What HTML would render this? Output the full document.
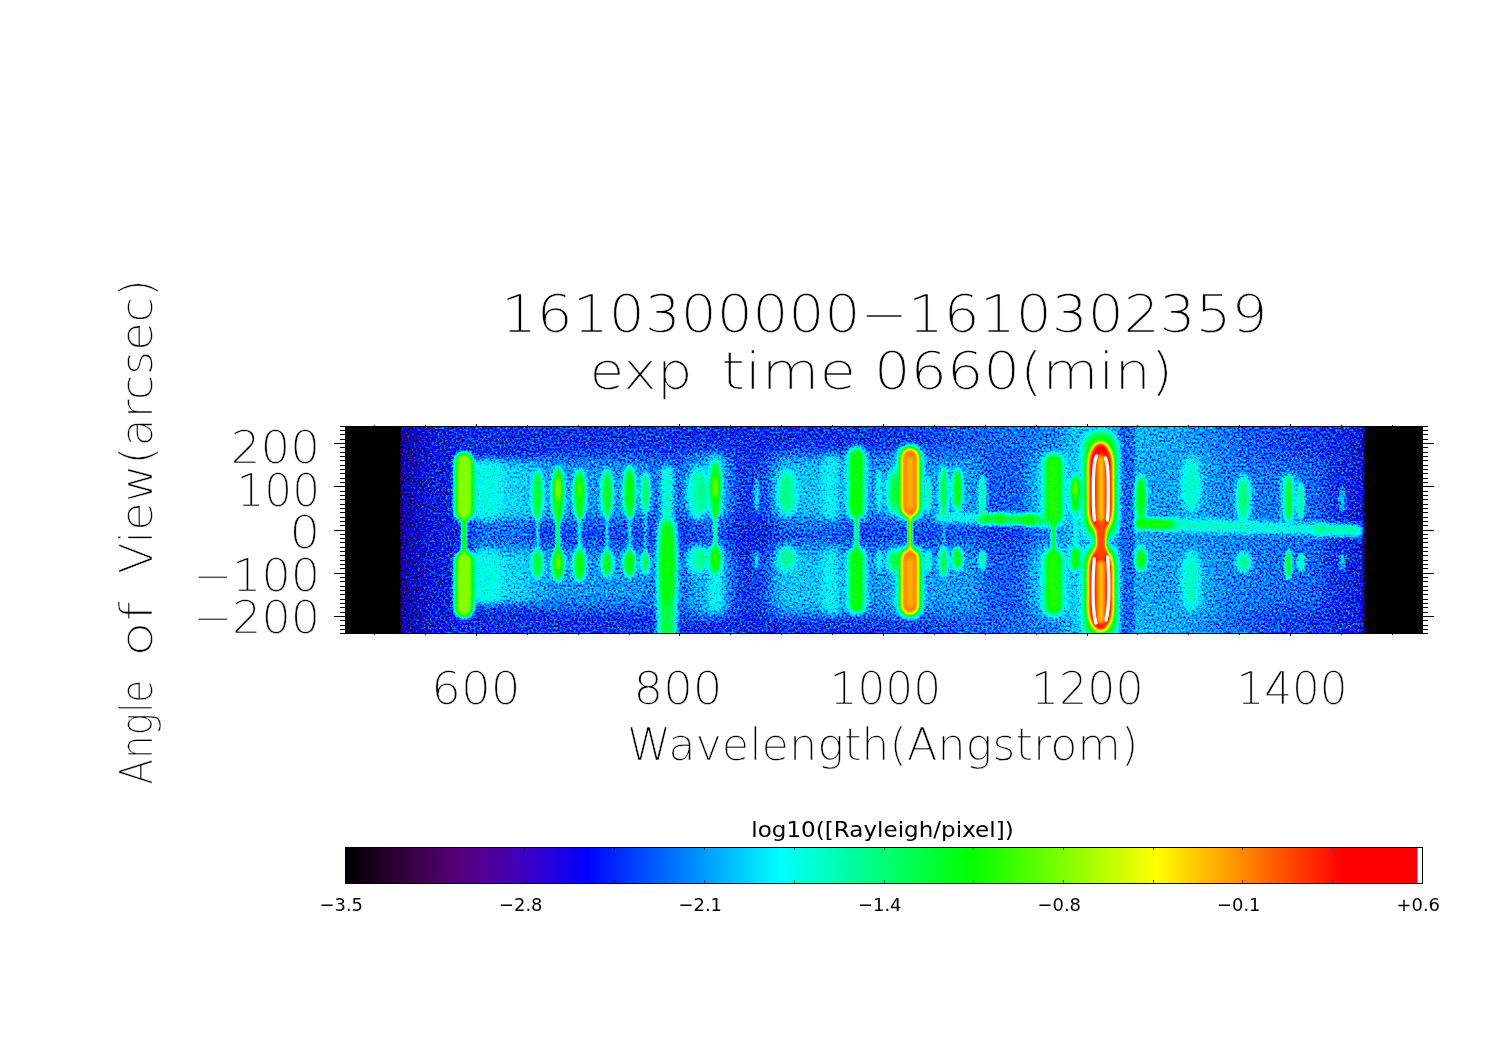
<!DOCTYPE html>
<html lang="en"><head><meta charset="utf-8"><title>1610300000-1610302359 exp time 0660(min)</title>
<style>html,body{margin:0;padding:0;background:#fff}svg{display:block}.h{font-family:"DejaVu Sans","Liberation Sans",sans-serif;font-weight:200;fill:#000;stroke:#fff;stroke-width:.45px}.s{font-family:"DejaVu Sans","Liberation Sans",sans-serif;fill:#000}</style></head><body>
<svg width="1497" height="1058" viewBox="0 0 1497 1058">
<defs>
<filter id="b1" filterUnits="userSpaceOnUse" x="305" y="387" width="1158" height="286" color-interpolation-filters="sRGB"><feGaussianBlur stdDeviation="1.0"/></filter>
<filter id="b15" filterUnits="userSpaceOnUse" x="305" y="387" width="1158" height="286" color-interpolation-filters="sRGB"><feGaussianBlur stdDeviation="1.5"/></filter>
<filter id="b2" filterUnits="userSpaceOnUse" x="305" y="387" width="1158" height="286" color-interpolation-filters="sRGB"><feGaussianBlur stdDeviation="2.0"/></filter>
<filter id="b3" filterUnits="userSpaceOnUse" x="305" y="387" width="1158" height="286" color-interpolation-filters="sRGB"><feGaussianBlur stdDeviation="3.0"/></filter>
<filter id="b5" filterUnits="userSpaceOnUse" x="305" y="387" width="1158" height="286" color-interpolation-filters="sRGB"><feGaussianBlur stdDeviation="5.0"/></filter>
<filter id="b8" filterUnits="userSpaceOnUse" x="305" y="387" width="1158" height="286" color-interpolation-filters="sRGB"><feGaussianBlur stdDeviation="8.0"/></filter>
<filter id="b14" filterUnits="userSpaceOnUse" x="305" y="387" width="1158" height="286" color-interpolation-filters="sRGB"><feGaussianBlur stdDeviation="14.0"/></filter>
<filter id="cm" filterUnits="userSpaceOnUse" x="346" y="427" width="1076" height="206" color-interpolation-filters="sRGB">
<feComponentTransfer in="SourceGraphic" result="M"><feFuncR type="table" tableValues="1 1 1 1 1 1 1 1 1 0.93 0.86 0.79 0.72 0.64 0.56 0.48 0.4 0.355 0.31 0.265 0.22 0.19 0.16 0.13 0.1 0.075 0.05 0.025 0 0 0 0 0 0 0 0 0 0 0 0 0"/><feFuncG type="table" tableValues="1 1 1 1 1 1 1 1 1 0.93 0.86 0.79 0.72 0.64 0.56 0.48 0.4 0.355 0.31 0.265 0.22 0.19 0.16 0.13 0.1 0.075 0.05 0.025 0 0 0 0 0 0 0 0 0 0 0 0 0"/><feFuncB type="table" tableValues="1 1 1 1 1 1 1 1 1 0.93 0.86 0.79 0.72 0.64 0.56 0.48 0.4 0.355 0.31 0.265 0.22 0.19 0.16 0.13 0.1 0.075 0.05 0.025 0 0 0 0 0 0 0 0 0 0 0 0 0"/></feComponentTransfer>
<feTurbulence type="fractalNoise" baseFrequency="0.5 0.47" numOctaves="2" seed="7" result="T"/>
<feColorMatrix in="T" type="matrix" values="1 0 0 0 0  1 0 0 0 0  1 0 0 0 0  0 0 0 0 1" result="N0"/>
<feComponentTransfer in="N0" result="N"><feFuncR type="table" tableValues="0 0 0 0 0 0 0 0 0 0 0 0 0 0 0.002 0.063 0.117 0.167 0.213 0.254 0.293 0.33 0.364 0.395 0.426 0.454 0.481 0.507 0.532 0.555 0.578 0.599 0.62 0.64 0.659 0.678 0.696 0.713 0.73 0.746 0.762 0.778 0.793 0.807 0.821 0.835 0.849 0.862 0.875 0.887 0.899 0.911 0.923 0.935 0.946 0.957 0.968 0.978 0.988 0.999 1 1 1 1 1"/><feFuncG type="table" tableValues="0 0 0 0 0 0 0 0 0 0 0 0 0 0 0.002 0.063 0.117 0.167 0.213 0.254 0.293 0.33 0.364 0.395 0.426 0.454 0.481 0.507 0.532 0.555 0.578 0.599 0.62 0.64 0.659 0.678 0.696 0.713 0.73 0.746 0.762 0.778 0.793 0.807 0.821 0.835 0.849 0.862 0.875 0.887 0.899 0.911 0.923 0.935 0.946 0.957 0.968 0.978 0.988 0.999 1 1 1 1 1"/><feFuncB type="table" tableValues="0 0 0 0 0 0 0 0 0 0 0 0 0 0 0.002 0.063 0.117 0.167 0.213 0.254 0.293 0.33 0.364 0.395 0.426 0.454 0.481 0.507 0.532 0.555 0.578 0.599 0.62 0.64 0.659 0.678 0.696 0.713 0.73 0.746 0.762 0.778 0.793 0.807 0.821 0.835 0.849 0.862 0.875 0.887 0.899 0.911 0.923 0.935 0.946 0.957 0.968 0.978 0.988 0.999 1 1 1 1 1"/></feComponentTransfer>
<feComposite in="M" in2="N" operator="arithmetic" k1="1" k2="0" k3="0" k4="0" result="D"/>
<feComposite in="SourceGraphic" in2="D" operator="arithmetic" k1="0" k2="1" k3="0.4333" k4="0" result="Q"/>
<feComponentTransfer in="SourceGraphic" result="MB"><feFuncR type="table" tableValues="0 0 0 0 0 0 0 0 0 0.07 0.14 0.21 0.28 0.36 0.44 0.52 0.6 0.645 0.69 0.735 0.78 0.81 0.84 0.87 0.9 0.925 0.95 0.975 1 1 1 1 1 1 1 1 1 1 1 1 1"/><feFuncG type="table" tableValues="0 0 0 0 0 0 0 0 0 0.07 0.14 0.21 0.28 0.36 0.44 0.52 0.6 0.645 0.69 0.735 0.78 0.81 0.84 0.87 0.9 0.925 0.95 0.975 1 1 1 1 1 1 1 1 1 1 1 1 1"/><feFuncB type="table" tableValues="0 0 0 0 0 0 0 0 0 0.07 0.14 0.21 0.28 0.36 0.44 0.52 0.6 0.645 0.69 0.735 0.78 0.81 0.84 0.87 0.9 0.925 0.95 0.975 1 1 1 1 1 1 1 1 1 1 1 1 1"/></feComponentTransfer>
<feComposite in="Q" in2="MB" operator="arithmetic" k1="0" k2="1" k3="0.2687" k4="-0.2687" result="F"/>
<feComponentTransfer in="F" result="C"><feFuncR type="table" tableValues="0 0.022 0.044 0.066 0.086 0.107 0.125 0.141 0.157 0.16 0.163 0.161 0.149 0.137 0.12 0.099 0.078 0.052 0.026 0 0 0 0 0 0 0 0 0 0 0 0 0 0 0 0 0 0 0 0 0 0 0 0 0 0 0 0 0 0 0 0.045 0.114 0.182 0.25 0.318 0.386 0.455 0.523 0.591 0.659 0.727 0.795 0.864 0.932 1 1 1 1 1 1 1 1 1 1 1 1 1 1 1 1 1 1 1 1 1 1"/><feFuncG type="table" tableValues="0 0 0 0 0 0 0 0 0 0 0 0 0 0 0 0 0 0 0 0 0.065 0.13 0.196 0.261 0.326 0.391 0.457 0.522 0.587 0.652 0.717 0.783 0.848 0.913 0.978 1 1 1 1 1 1 1 1 1 1 1 1 1 1 1 1 1 1 1 1 1 1 1 1 1 1 1 1 1 1 0.932 0.864 0.795 0.727 0.659 0.591 0.523 0.455 0.386 0.318 0.25 0.182 0.114 0.045 0 0 0 0 0 0 1"/><feFuncB type="table" tableValues="0 0.05 0.1 0.151 0.204 0.257 0.312 0.368 0.424 0.478 0.532 0.587 0.641 0.696 0.751 0.807 0.863 0.908 0.954 1 1 1 1 1 1 1 1 1 1 1 1 1 1 1 1 0.956 0.889 0.822 0.756 0.689 0.622 0.556 0.489 0.422 0.356 0.289 0.222 0.156 0.089 0.022 0 0 0 0 0 0 0 0 0 0 0 0 0 0 0 0 0 0 0 0 0 0 0 0 0 0 0 0 0 0 0 0 0 0 0 1"/></feComponentTransfer>
<feGaussianBlur in="C" stdDeviation="0.38"/>
</filter>
<linearGradient id="bg" gradientUnits="userSpaceOnUse" x1="345" y1="0" x2="1423" y2="0">
<stop offset="0.0000" stop-color="rgb(0,0,0)"/>
<stop offset="0.0506" stop-color="rgb(0,0,0)"/>
<stop offset="0.0533" stop-color="rgb(41,41,41)"/>
<stop offset="0.0788" stop-color="rgb(57,57,57)"/>
<stop offset="0.1160" stop-color="rgb(64,64,64)"/>
<stop offset="0.2737" stop-color="rgb(66,66,66)"/>
<stop offset="0.3850" stop-color="rgb(64,64,64)"/>
<stop offset="0.4963" stop-color="rgb(66,66,66)"/>
<stop offset="0.5427" stop-color="rgb(70,70,70)"/>
<stop offset="0.5937" stop-color="rgb(76,76,76)"/>
<stop offset="0.6447" stop-color="rgb(80,80,80)"/>
<stop offset="0.6725" stop-color="rgb(82,82,82)"/>
<stop offset="0.7310" stop-color="rgb(79,79,79)"/>
<stop offset="0.7328" stop-color="rgb(91,91,91)"/>
<stop offset="0.7699" stop-color="rgb(88,88,88)"/>
<stop offset="0.8071" stop-color="rgb(82,82,82)"/>
<stop offset="0.8395" stop-color="rgb(74,74,74)"/>
<stop offset="0.8766" stop-color="rgb(69,69,69)"/>
<stop offset="0.9230" stop-color="rgb(64,64,64)"/>
<stop offset="0.9434" stop-color="rgb(59,59,59)"/>
<stop offset="0.9467" stop-color="rgb(0,0,0)"/>
<stop offset="1.0000" stop-color="rgb(0,0,0)"/>
</linearGradient>
<linearGradient id="cb" x1="0" y1="0" x2="1" y2="0">
<stop offset="0.0000" stop-color="rgb(0,0,0)"/>
<stop offset="0.0314" stop-color="rgb(30,0,34)"/>
<stop offset="0.0627" stop-color="rgb(58,0,70)"/>
<stop offset="0.0941" stop-color="rgb(80,0,108)"/>
<stop offset="0.1255" stop-color="rgb(84,0,145)"/>
<stop offset="0.1569" stop-color="rgb(68,0,182)"/>
<stop offset="0.1882" stop-color="rgb(40,0,220)"/>
<stop offset="0.2235" stop-color="rgb(0,0,255)"/>
<stop offset="0.4039" stop-color="rgb(0,255,255)"/>
<stop offset="0.5804" stop-color="rgb(0,255,0)"/>
<stop offset="0.7529" stop-color="rgb(255,255,0)"/>
<stop offset="0.9255" stop-color="rgb(255,0,0)"/>
<stop offset="1" stop-color="rgb(255,0,0)"/>
</linearGradient>
</defs>
<rect width="1497" height="1058" fill="#fff"/>
<g filter="url(#cm)">
<rect x="340" y="422" width="1088" height="216" fill="url(#bg)"/>
<rect x="472.0" y="519.0" width="62.0" height="32.0" rx="6.0" fill="rgb(84,84,84)" filter="url(#b5)" opacity="0.7"/>
<rect x="473.0" y="460.0" width="76.0" height="60.0" rx="8.0" fill="rgb(101,101,101)" filter="url(#b5)" opacity="0.9"/>
<rect x="471.0" y="462.0" width="30.0" height="56.0" rx="8.0" fill="rgb(110,110,110)" filter="url(#b5)" opacity="0.9"/>
<rect x="473.0" y="549.0" width="76.0" height="55.0" rx="8.0" fill="rgb(101,101,101)" filter="url(#b5)" opacity="0.9"/>
<rect x="471.0" y="551.0" width="30.0" height="51.0" rx="8.0" fill="rgb(110,110,110)" filter="url(#b5)" opacity="0.9"/>
<rect x="535.0" y="459.0" width="125.0" height="152.0" rx="10.0" fill="rgb(73,73,73)" filter="url(#b8)" opacity="0.6375"/>
<rect x="535.0" y="458.0" width="125.0" height="62.0" rx="10.0" fill="rgb(91,91,91)" filter="url(#b8)" opacity="0.75"/>
<rect x="535.0" y="548.0" width="125.0" height="58.0" rx="10.0" fill="rgb(91,91,91)" filter="url(#b8)" opacity="0.75"/>
<rect x="655.0" y="459.0" width="80.0" height="152.0" rx="10.0" fill="rgb(66,66,66)" filter="url(#b8)" opacity="0.595"/>
<rect x="655.0" y="455.0" width="80.0" height="65.0" rx="10.0" fill="rgb(84,84,84)" filter="url(#b8)" opacity="0.7"/>
<rect x="655.0" y="548.0" width="80.0" height="67.0" rx="10.0" fill="rgb(84,84,84)" filter="url(#b8)" opacity="0.7"/>
<rect x="690.0" y="459.0" width="40.0" height="152.0" rx="10.0" fill="rgb(78,78,78)" filter="url(#b8)" opacity="0.595"/>
<rect x="690.0" y="455.0" width="40.0" height="65.0" rx="10.0" fill="rgb(96,96,96)" filter="url(#b8)" opacity="0.7"/>
<rect x="690.0" y="548.0" width="40.0" height="67.0" rx="10.0" fill="rgb(96,96,96)" filter="url(#b8)" opacity="0.7"/>
<rect x="740.0" y="459.0" width="50.0" height="152.0" rx="10.0" fill="rgb(59,59,59)" filter="url(#b8)" opacity="0.425"/>
<rect x="740.0" y="455.0" width="50.0" height="65.0" rx="10.0" fill="rgb(76,76,76)" filter="url(#b8)" opacity="0.5"/>
<rect x="740.0" y="548.0" width="50.0" height="67.0" rx="10.0" fill="rgb(76,76,76)" filter="url(#b8)" opacity="0.5"/>
<rect x="772.0" y="459.0" width="78.0" height="152.0" rx="10.0" fill="rgb(80,80,80)" filter="url(#b8)" opacity="0.68"/>
<rect x="772.0" y="455.0" width="78.0" height="65.0" rx="10.0" fill="rgb(98,98,98)" filter="url(#b8)" opacity="0.8"/>
<rect x="772.0" y="548.0" width="78.0" height="67.0" rx="10.0" fill="rgb(98,98,98)" filter="url(#b8)" opacity="0.8"/>
<rect x="823.0" y="455.0" width="18.0" height="65.0" rx="10.0" fill="rgb(107,107,107)" filter="url(#b3)" opacity="0.9"/>
<rect x="823.0" y="548.0" width="18.0" height="67.0" rx="10.0" fill="rgb(107,107,107)" filter="url(#b3)" opacity="0.9"/>
<rect x="842.0" y="459.0" width="63.0" height="152.0" rx="10.0" fill="rgb(74,74,74)" filter="url(#b8)" opacity="0.595"/>
<rect x="842.0" y="455.0" width="63.0" height="65.0" rx="10.0" fill="rgb(92,92,92)" filter="url(#b8)" opacity="0.7"/>
<rect x="842.0" y="548.0" width="63.0" height="67.0" rx="10.0" fill="rgb(92,92,92)" filter="url(#b8)" opacity="0.7"/>
<rect x="880.0" y="459.0" width="110.0" height="152.0" rx="10.0" fill="rgb(74,74,74)" filter="url(#b8)" opacity="0.595"/>
<rect x="880.0" y="455.0" width="110.0" height="65.0" rx="10.0" fill="rgb(92,92,92)" filter="url(#b8)" opacity="0.7"/>
<rect x="880.0" y="548.0" width="110.0" height="67.0" rx="10.0" fill="rgb(92,92,92)" filter="url(#b8)" opacity="0.7"/>
<rect x="985.0" y="459.0" width="50.0" height="152.0" rx="10.0" fill="rgb(61,61,61)" filter="url(#b8)" opacity="0.51"/>
<rect x="985.0" y="455.0" width="50.0" height="65.0" rx="10.0" fill="rgb(79,79,79)" filter="url(#b8)" opacity="0.6"/>
<rect x="985.0" y="548.0" width="50.0" height="67.0" rx="10.0" fill="rgb(79,79,79)" filter="url(#b8)" opacity="0.6"/>
<rect x="1030.0" y="459.0" width="55.0" height="152.0" rx="10.0" fill="rgb(82,82,82)" filter="url(#b8)" opacity="0.68"/>
<rect x="1030.0" y="455.0" width="55.0" height="65.0" rx="10.0" fill="rgb(99,99,99)" filter="url(#b8)" opacity="0.8"/>
<rect x="1030.0" y="548.0" width="55.0" height="67.0" rx="10.0" fill="rgb(99,99,99)" filter="url(#b8)" opacity="0.8"/>
<rect x="1170.0" y="459.0" width="45.0" height="152.0" rx="10.0" fill="rgb(80,80,80)" filter="url(#b8)" opacity="0.51"/>
<rect x="1170.0" y="455.0" width="45.0" height="65.0" rx="10.0" fill="rgb(98,98,98)" filter="url(#b8)" opacity="0.6"/>
<rect x="1170.0" y="548.0" width="45.0" height="67.0" rx="10.0" fill="rgb(98,98,98)" filter="url(#b8)" opacity="0.6"/>
<rect x="1140.0" y="458.0" width="185.0" height="150.0" rx="10.0" fill="rgb(85,85,85)" filter="url(#b8)" opacity="0.55"/>
<rect x="1064.0" y="407.0" width="54.0" height="246.0" rx="20.0" fill="rgb(97,97,97)" filter="url(#b8)" opacity="0.8"/>
<path d="M935 511.9L985 513.5L985 523.5L935 521.9Z" fill="rgb(107,107,107)" filter="url(#b2)"/>
<path d="M980 512.9L1050 515.1L1050 526.1L980 523.9Z" fill="rgb(139,139,139)" filter="url(#b2)"/>
<path d="M1135 517.9L1178 519.3L1178 530.3L1135 528.9Z" fill="rgb(153,153,153)" filter="url(#b2)"/>
<path d="M1172 519.1L1250 521.6L1250 532.6L1172 530.1Z" fill="rgb(117,117,117)" filter="url(#b3)"/>
<path d="M1240 521.3L1325 524.0L1325 535.0L1240 532.3Z" fill="rgb(113,113,113)" filter="url(#b3)"/>
<path d="M1315 523.7L1362 525.2L1362 536.2L1315 534.7Z" fill="rgb(125,125,125)" filter="url(#b3)"/>
<ellipse cx="984.0" cy="518.5" rx="5.0" ry="5.0" fill="rgb(145,145,145)" filter="url(#b2)"/>
<ellipse cx="1000.0" cy="519.0" rx="5.0" ry="5.0" fill="rgb(150,150,150)" filter="url(#b2)"/>
<ellipse cx="1029.0" cy="520.0" rx="6.0" ry="5.5" fill="rgb(150,150,150)" filter="url(#b2)"/>
<rect x="461.5" y="515.0" width="5.0" height="42.0" rx="1.0" fill="rgb(153,153,153)" filter="url(#b1)"/>
<rect x="454.5" y="452.0" width="19.0" height="69.0" rx="9.5" fill="rgb(171,171,171)" filter="url(#b2)"/>
<rect x="454.5" y="551.0" width="19.0" height="67.0" rx="9.5" fill="rgb(171,171,171)" filter="url(#b2)"/>
<rect x="536.0" y="513.0" width="3.0" height="43.0" rx="1.0" fill="rgb(107,107,107)" filter="url(#b1)"/>
<ellipse cx="537.5" cy="495.0" rx="5.5" ry="25.0" fill="rgb(140,140,140)" filter="url(#b2)"/>
<ellipse cx="537.5" cy="564.0" rx="5.5" ry="15.0" fill="rgb(140,140,140)" filter="url(#b2)"/>
<rect x="556.0" y="515.0" width="4.0" height="40.0" rx="1.0" fill="rgb(140,140,140)" filter="url(#b1)"/>
<ellipse cx="558.0" cy="494.0" rx="6.0" ry="28.0" fill="rgb(153,153,153)" filter="url(#b2)"/>
<ellipse cx="558.0" cy="564.5" rx="6.0" ry="16.5" fill="rgb(153,153,153)" filter="url(#b2)"/>
<ellipse cx="558.0" cy="489.0" rx="3.0" ry="12.0" fill="rgb(173,173,173)" filter="url(#b2)"/>
<ellipse cx="558.0" cy="562.0" rx="3.0" ry="7.0" fill="rgb(168,168,168)" filter="url(#b2)"/>
<rect x="578.0" y="513.0" width="3.0" height="42.0" rx="1.0" fill="rgb(115,115,115)" filter="url(#b1)"/>
<ellipse cx="579.5" cy="494.5" rx="6.0" ry="25.5" fill="rgb(148,148,148)" filter="url(#b2)"/>
<ellipse cx="579.5" cy="564.5" rx="6.0" ry="16.5" fill="rgb(148,148,148)" filter="url(#b2)"/>
<ellipse cx="579.5" cy="489.0" rx="3.0" ry="10.0" fill="rgb(161,161,161)" filter="url(#b2)"/>
<rect x="605.5" y="511.0" width="3.0" height="46.0" rx="1.0" fill="rgb(107,107,107)" filter="url(#b1)"/>
<ellipse cx="607.0" cy="493.5" rx="5.5" ry="24.5" fill="rgb(143,143,143)" filter="url(#b2)"/>
<ellipse cx="607.0" cy="563.5" rx="5.5" ry="13.5" fill="rgb(143,143,143)" filter="url(#b2)"/>
<rect x="628.0" y="511.0" width="3.0" height="45.0" rx="1.0" fill="rgb(107,107,107)" filter="url(#b1)"/>
<ellipse cx="629.5" cy="492.0" rx="6.0" ry="26.0" fill="rgb(148,148,148)" filter="url(#b2)"/>
<ellipse cx="629.5" cy="563.0" rx="6.0" ry="14.0" fill="rgb(148,148,148)" filter="url(#b2)"/>
<rect x="644.0" y="506.0" width="3.0" height="52.0" rx="1.0" fill="rgb(97,97,97)" filter="url(#b1)"/>
<ellipse cx="645.5" cy="492.5" rx="4.0" ry="20.5" fill="rgb(138,138,138)" filter="url(#b2)"/>
<ellipse cx="645.5" cy="562.5" rx="4.0" ry="11.5" fill="rgb(138,138,138)" filter="url(#b2)"/>
<rect x="662.0" y="466.0" width="10.0" height="170.0" rx="5.0" fill="rgb(120,120,120)" filter="url(#b3)"/>
<rect x="658.5" y="520.0" width="17.0" height="125.0" rx="8.5" fill="rgb(138,138,138)" filter="url(#b3)"/>
<ellipse cx="667.3" cy="565.0" rx="7.5" ry="42.0" fill="rgb(149,149,149)" filter="url(#b3)"/>
<ellipse cx="697.0" cy="493.0" rx="9.5" ry="26.0" fill="rgb(116,116,116)" filter="url(#b3)"/>
<ellipse cx="697.0" cy="559.5" rx="9.5" ry="13.5" fill="rgb(116,116,116)" filter="url(#b3)"/>
<ellipse cx="702.5" cy="492.5" rx="4.0" ry="20.5" fill="rgb(128,128,128)" filter="url(#b2)"/>
<ellipse cx="702.5" cy="559.0" rx="4.0" ry="11.0" fill="rgb(128,128,128)" filter="url(#b2)"/>
<rect x="709.3" y="455.0" width="12.0" height="62.0" rx="6.0" fill="rgb(107,107,107)" filter="url(#b3)"/>
<rect x="708.5" y="546.0" width="14.0" height="66.0" rx="7.0" fill="rgb(105,105,105)" filter="url(#b3)"/>
<rect x="713.8" y="511.0" width="3.0" height="41.0" rx="1.0" fill="rgb(140,140,140)" filter="url(#b1)"/>
<ellipse cx="715.3" cy="489.5" rx="5.5" ry="28.5" fill="rgb(148,148,148)" filter="url(#b2)"/>
<ellipse cx="715.3" cy="559.5" rx="5.5" ry="14.5" fill="rgb(148,148,148)" filter="url(#b2)"/>
<ellipse cx="715.3" cy="487.0" rx="3.0" ry="12.0" fill="rgb(171,171,171)" filter="url(#b2)"/>
<ellipse cx="715.3" cy="559.0" rx="3.0" ry="7.0" fill="rgb(158,158,158)" filter="url(#b2)"/>
<ellipse cx="756.6" cy="495.0" rx="2.5" ry="18.0" fill="rgb(102,102,102)" filter="url(#b15)"/>
<ellipse cx="756.6" cy="560.0" rx="2.5" ry="10.0" fill="rgb(102,102,102)" filter="url(#b15)"/>
<ellipse cx="786.5" cy="492.5" rx="9.0" ry="22.5" fill="rgb(125,125,125)" filter="url(#b3)"/>
<ellipse cx="786.5" cy="558.5" rx="9.0" ry="11.5" fill="rgb(125,125,125)" filter="url(#b3)"/>
<rect x="846.5" y="446.0" width="20.0" height="74.0" rx="10.0" fill="rgb(112,112,112)" filter="url(#b3)"/>
<rect x="846.5" y="546.0" width="20.0" height="69.0" rx="10.0" fill="rgb(112,112,112)" filter="url(#b3)"/>
<rect x="854.5" y="511.0" width="4.0" height="44.0" rx="1.0" fill="rgb(140,140,140)" filter="url(#b1)"/>
<rect x="849.5" y="449.0" width="14.0" height="68.0" rx="7.0" fill="rgb(149,149,149)" filter="url(#b2)"/>
<rect x="849.5" y="549.0" width="14.0" height="63.0" rx="7.0" fill="rgb(149,149,149)" filter="url(#b2)"/>
<ellipse cx="879.0" cy="491.0" rx="3.0" ry="22.0" fill="rgb(107,107,107)" filter="url(#b15)"/>
<ellipse cx="879.0" cy="561.0" rx="3.0" ry="12.0" fill="rgb(107,107,107)" filter="url(#b15)"/>
<ellipse cx="894.0" cy="492.0" rx="6.5" ry="22.0" fill="rgb(140,140,140)" filter="url(#b3)"/>
<ellipse cx="894.0" cy="560.5" rx="6.5" ry="11.5" fill="rgb(140,140,140)" filter="url(#b3)"/>
<rect x="898.0" y="445.0" width="24.0" height="75.0" rx="12.0" fill="rgb(140,140,140)" filter="url(#b3)"/>
<rect x="898.0" y="546.0" width="24.0" height="72.0" rx="12.0" fill="rgb(140,140,140)" filter="url(#b3)"/>
<rect x="908.0" y="511.0" width="4.0" height="44.0" rx="1.0" fill="rgb(184,184,184)" filter="url(#b1)"/>
<rect x="901.0" y="448.0" width="18.0" height="69.0" rx="9.0" fill="rgb(217,217,217)" filter="url(#b2)"/>
<rect x="901.0" y="549.0" width="18.0" height="66.0" rx="9.0" fill="rgb(217,217,217)" filter="url(#b2)"/>
<rect x="906.5" y="456.0" width="7.0" height="54.0" rx="3.5" fill="rgb(204,204,204)" filter="url(#b2)"/>
<rect x="906.5" y="557.0" width="7.0" height="51.0" rx="3.5" fill="rgb(204,204,204)" filter="url(#b2)"/>
<ellipse cx="928.0" cy="495.0" rx="3.5" ry="18.0" fill="rgb(115,115,115)" filter="url(#b15)"/>
<ellipse cx="928.0" cy="560.5" rx="3.5" ry="10.5" fill="rgb(115,115,115)" filter="url(#b15)"/>
<rect x="942.7" y="511.0" width="2.0" height="43.0" rx="1.0" fill="rgb(102,102,102)" filter="url(#b1)"/>
<ellipse cx="943.7" cy="492.0" rx="4.0" ry="26.0" fill="rgb(140,140,140)" filter="url(#b2)"/>
<ellipse cx="943.7" cy="562.0" rx="4.0" ry="15.0" fill="rgb(140,140,140)" filter="url(#b2)"/>
<ellipse cx="957.4" cy="489.5" rx="5.0" ry="21.5" fill="rgb(148,148,148)" filter="url(#b2)"/>
<ellipse cx="957.4" cy="558.5" rx="5.0" ry="11.5" fill="rgb(148,148,148)" filter="url(#b2)"/>
<ellipse cx="982.3" cy="497.5" rx="4.0" ry="22.5" fill="rgb(117,117,117)" filter="url(#b15)"/>
<ellipse cx="982.3" cy="560.0" rx="4.0" ry="10.0" fill="rgb(117,117,117)" filter="url(#b15)"/>
<rect x="1042.5" y="452.0" width="22.0" height="75.0" rx="11.0" fill="rgb(117,117,117)" filter="url(#b3)"/>
<rect x="1042.5" y="548.0" width="22.0" height="69.0" rx="11.0" fill="rgb(117,117,117)" filter="url(#b3)"/>
<rect x="1051.5" y="518.0" width="4.0" height="39.0" rx="1.0" fill="rgb(148,148,148)" filter="url(#b1)"/>
<rect x="1045.5" y="455.0" width="16.0" height="69.0" rx="8.0" fill="rgb(153,153,153)" filter="url(#b2)"/>
<rect x="1045.5" y="551.0" width="16.0" height="63.0" rx="8.0" fill="rgb(153,153,153)" filter="url(#b2)"/>
<rect x="1073.9" y="506.0" width="3.0" height="48.0" rx="1.0" fill="rgb(115,115,115)" filter="url(#b1)"/>
<ellipse cx="1075.4" cy="494.0" rx="5.0" ry="19.0" fill="rgb(153,153,153)" filter="url(#b2)"/>
<ellipse cx="1075.4" cy="559.0" rx="5.0" ry="12.0" fill="rgb(153,153,153)" filter="url(#b2)"/>
<ellipse cx="1075.4" cy="488.0" rx="3.0" ry="8.0" fill="rgb(168,168,168)" filter="url(#b2)"/>
<rect x="1119.5" y="422.0" width="14.0" height="216.0" rx="0.0" fill="rgb(76,76,76)" filter="url(#b1)"/>
<rect x="1083.0" y="431.0" width="35.0" height="109.0" rx="17.0" fill="rgb(143,143,143)" filter="url(#b3)"/>
<rect x="1083.0" y="544.0" width="35.0" height="96.0" rx="17.0" fill="rgb(143,143,143)" filter="url(#b3)"/>
<rect x="1087.8" y="442" width="25.5" height="90" rx="12.7" ry="24" fill="rgb(237,237,237)" filter="url(#b2)"/>
<rect x="1087.8" y="547" width="25.5" height="84.5" rx="12.7" ry="24" fill="rgb(237,237,237)" filter="url(#b2)"/>
<rect x="1095.5" y="522.0" width="11.0" height="36.0" rx="2.0" fill="rgb(224,224,224)" filter="url(#b15)"/>
<rect x="1097.0" y="455.0" width="8.0" height="67.0" rx="4.0" fill="rgb(201,201,201)" filter="url(#b2)"/>
<rect x="1097.0" y="560.0" width="8.0" height="64.0" rx="4.0" fill="rgb(201,201,201)" filter="url(#b2)"/>
<ellipse cx="1141.0" cy="498.0" rx="5.5" ry="23.0" fill="rgb(148,148,148)" filter="url(#b2)"/>
<ellipse cx="1141.0" cy="559.0" rx="5.5" ry="12.0" fill="rgb(148,148,148)" filter="url(#b2)"/>
<ellipse cx="1191.0" cy="485.0" rx="9.5" ry="28.0" fill="rgb(113,113,113)" filter="url(#b3)"/>
<ellipse cx="1191.0" cy="580.5" rx="9.5" ry="30.5" fill="rgb(113,113,113)" filter="url(#b3)"/>
<ellipse cx="1243.5" cy="498.5" rx="7.0" ry="23.5" fill="rgb(129,129,129)" filter="url(#b3)"/>
<ellipse cx="1243.5" cy="562.0" rx="7.0" ry="10.0" fill="rgb(129,129,129)" filter="url(#b3)"/>
<rect x="1281.0" y="474.0" width="16.0" height="48.0" rx="8.0" fill="rgb(107,107,107)" filter="url(#b3)"/>
<ellipse cx="1288.6" cy="498.5" rx="3.5" ry="23.5" fill="rgb(142,142,142)" filter="url(#b15)"/>
<ellipse cx="1288.6" cy="564.5" rx="3.5" ry="14.5" fill="rgb(142,142,142)" filter="url(#b15)"/>
<ellipse cx="1301.0" cy="501.0" rx="3.5" ry="19.0" fill="rgb(121,121,121)" filter="url(#b15)"/>
<ellipse cx="1301.0" cy="562.5" rx="3.5" ry="9.5" fill="rgb(121,121,121)" filter="url(#b15)"/>
<ellipse cx="1342.0" cy="499.5" rx="3.5" ry="13.5" fill="rgb(92,92,92)" filter="url(#b15)"/>
<ellipse cx="1342.0" cy="562.0" rx="3.5" ry="10.0" fill="rgb(92,92,92)" filter="url(#b15)"/>
</g>
<rect x="346" y="427" width="54" height="206" fill="#000"/>
<rect x="1366" y="427" width="56.5" height="206" fill="#000"/>
<g fill="none" stroke="#fff" stroke-width="3.4" stroke-linecap="round">
<path d="M1096.5 456Q1093.3 462 1093.3 488T1094.6 520"/>
<path d="M1105.5 458Q1108.3 464 1108.3 488T1107.4 520"/>
<path d="M1094.4 559Q1093 570 1093 592T1096 623"/>
<path d="M1107.6 557Q1108.8 570 1108.8 590T1106 620"/>
</g>
<g stroke="#000" stroke-width="1" fill="none" shape-rendering="crispEdges">
<rect x="345.5" y="426.5" width="1077" height="207"/>
<path d="M374.5 426v-1M374.5 634v1M425.5 426v-1M425.5 634v1M476.5 426v-2M476.5 634v2M527.5 426v-1M527.5 634v1M578.5 426v-1M578.5 634v1M629.5 426v-1M629.5 634v1M679.5 426v-2M679.5 634v2M730.5 426v-1M730.5 634v1M781.5 426v-1M781.5 634v1M832.5 426v-1M832.5 634v1M883.5 426v-2M883.5 634v2M934.5 426v-1M934.5 634v1M985.5 426v-1M985.5 634v1M1036.5 426v-1M1036.5 634v1M1087.5 426v-2M1087.5 634v2M1137.5 426v-1M1137.5 634v1M1188.5 426v-1M1188.5 634v1M1239.5 426v-1M1239.5 634v1M1290.5 426v-2M1290.5 634v2M1341.5 426v-1M1341.5 634v1M1392.5 426v-1M1392.5 634v1M345 633.5h-5M1423 633.5h5M345 629.5h-5M1423 629.5h5M345 625.5h-5M1423 625.5h5M345 620.5h-5M1423 620.5h5M345 616.5h-11M1423 616.5h11M345 612.5h-5M1423 612.5h5M345 607.5h-5M1423 607.5h5M345 603.5h-5M1423 603.5h5M345 599.5h-5M1423 599.5h5M345 594.5h-5M1423 594.5h5M345 590.5h-5M1423 590.5h5M345 586.5h-5M1423 586.5h5M345 581.5h-5M1423 581.5h5M345 577.5h-5M1423 577.5h5M345 573.5h-11M1423 573.5h11M345 568.5h-5M1423 568.5h5M345 564.5h-5M1423 564.5h5M345 560.5h-5M1423 560.5h5M345 555.5h-5M1423 555.5h5M345 551.5h-5M1423 551.5h5M345 547.5h-5M1423 547.5h5M345 542.5h-5M1423 542.5h5M345 538.5h-5M1423 538.5h5M345 534.5h-5M1423 534.5h5M345 530.5h-11M1423 530.5h11M345 525.5h-5M1423 525.5h5M345 521.5h-5M1423 521.5h5M345 517.5h-5M1423 517.5h5M345 512.5h-5M1423 512.5h5M345 508.5h-5M1423 508.5h5M345 504.5h-5M1423 504.5h5M345 499.5h-5M1423 499.5h5M345 495.5h-5M1423 495.5h5M345 491.5h-5M1423 491.5h5M345 486.5h-11M1423 486.5h11M345 482.5h-5M1423 482.5h5M345 478.5h-5M1423 478.5h5M345 473.5h-5M1423 473.5h5M345 469.5h-5M1423 469.5h5M345 465.5h-5M1423 465.5h5M345 460.5h-5M1423 460.5h5M345 456.5h-5M1423 456.5h5M345 452.5h-5M1423 452.5h5M345 447.5h-5M1423 447.5h5M345 443.5h-11M1423 443.5h11M345 439.5h-5M1423 439.5h5M345 434.5h-5M1423 434.5h5M345 430.5h-5M1423 430.5h5M345 426.5h-5M1423 426.5h5"/>
</g>
<text class="h" x="500.9" y="332" font-size="50.7" textLength="766.6" lengthAdjust="spacingAndGlyphs" text-anchor="start">1610300000−1610302359</text>
<text class="h" x="589.5" y="389" font-size="50.7" textLength="103.0" lengthAdjust="spacingAndGlyphs" text-anchor="start">exp</text>
<text class="h" x="721.5" y="389" font-size="50.7" textLength="134.6" lengthAdjust="spacingAndGlyphs" text-anchor="start">time</text>
<text class="h" x="874.0" y="389" font-size="50.7" textLength="299.2" lengthAdjust="spacingAndGlyphs" text-anchor="start">0660(min)</text>
<text class="h" x="230.8" y="463" font-size="43.7" textLength="89.3" lengthAdjust="spacingAndGlyphs" text-anchor="start">200</text>
<text class="h" x="236.5" y="505.5" font-size="43.7" textLength="83.6" lengthAdjust="spacingAndGlyphs" text-anchor="start">100</text>
<text class="h" x="289.5" y="548" font-size="43.7" textLength="30.6" lengthAdjust="spacingAndGlyphs" text-anchor="start">0</text>
<text class="h" x="193.5" y="590.5" font-size="43.7" textLength="126.6" lengthAdjust="spacingAndGlyphs" text-anchor="start">−100</text>
<text class="h" x="193.5" y="633" font-size="43.7" textLength="126.6" lengthAdjust="spacingAndGlyphs" text-anchor="start">−200</text>
<text class="h" x="431.2" y="703.5" font-size="43.7" textLength="89.3" lengthAdjust="spacingAndGlyphs" text-anchor="start">600</text>
<text class="h" x="633.5" y="703.5" font-size="43.7" textLength="89.0" lengthAdjust="spacingAndGlyphs" text-anchor="start">800</text>
<text class="h" x="829.5" y="703.5" font-size="43.7" textLength="111.7" lengthAdjust="spacingAndGlyphs" text-anchor="start">1000</text>
<text class="h" x="1031.1" y="703.5" font-size="43.7" textLength="112.4" lengthAdjust="spacingAndGlyphs" text-anchor="start">1200</text>
<text class="h" x="1236.5" y="703.5" font-size="43.7" textLength="111.0" lengthAdjust="spacingAndGlyphs" text-anchor="start">1400</text>
<text class="h" x="627.0" y="760" font-size="43.7" textLength="511.3" lengthAdjust="spacingAndGlyphs" text-anchor="start">Wavelength(Angstrom)</text>
<g transform="translate(152,781) rotate(-90)">
<text class="h" x="-3.5" y="0" font-size="43.7" textLength="104.7" lengthAdjust="spacingAndGlyphs" text-anchor="start">Angle</text>
<text class="h" x="124.2" y="0" font-size="43.7" textLength="55.6" lengthAdjust="spacingAndGlyphs" text-anchor="start">of</text>
<text class="h" x="206.9" y="0" font-size="43.7" textLength="295.1" lengthAdjust="spacingAndGlyphs" text-anchor="start">View(arcsec)</text>
</g>
<rect x="345" y="847" width="1078" height="36.5" fill="url(#cb)"/>
<rect x="1417.5" y="847" width="5" height="36.5" fill="#fff"/>
<g stroke="#000" stroke-width="1" fill="none" shape-rendering="crispEdges"><rect x="345.5" y="847.5" width="1077" height="36"/>
<path d="M435.5 847v3M435.5 883v-3M524.5 847v3M524.5 883v-3M614.5 847v3M614.5 883v-3M704.5 847v3M704.5 883v-3M794.5 847v3M794.5 883v-3M884.5 847v3M884.5 883v-3M973.5 847v3M973.5 883v-3M1063.5 847v3M1063.5 883v-3M1153.5 847v3M1153.5 883v-3M1242.5 847v3M1242.5 883v-3M1332.5 847v3M1332.5 883v-3" stroke-opacity=".6"/></g>
<text class="s" x="751.3" y="836.7" font-size="21.3" textLength="262.4" lengthAdjust="spacingAndGlyphs" text-anchor="start">log10([Rayleigh/pixel])</text>
<text class="s" x="319.5" y="911" font-size="18.4" textLength="43.5" lengthAdjust="spacingAndGlyphs" text-anchor="start">−3.5</text>
<text class="s" x="499.0" y="911" font-size="18.4" textLength="43.5" lengthAdjust="spacingAndGlyphs" text-anchor="start">−2.8</text>
<text class="s" x="678.5" y="911" font-size="18.4" textLength="43.5" lengthAdjust="spacingAndGlyphs" text-anchor="start">−2.1</text>
<text class="s" x="858.0" y="911" font-size="18.4" textLength="43.5" lengthAdjust="spacingAndGlyphs" text-anchor="start">−1.4</text>
<text class="s" x="1037.5" y="911" font-size="18.4" textLength="43.5" lengthAdjust="spacingAndGlyphs" text-anchor="start">−0.8</text>
<text class="s" x="1217.0" y="911" font-size="18.4" textLength="43.5" lengthAdjust="spacingAndGlyphs" text-anchor="start">−0.1</text>
<text class="s" x="1396.5" y="911" font-size="18.4" textLength="43.5" lengthAdjust="spacingAndGlyphs" text-anchor="start">+0.6</text>
</svg></body></html>
